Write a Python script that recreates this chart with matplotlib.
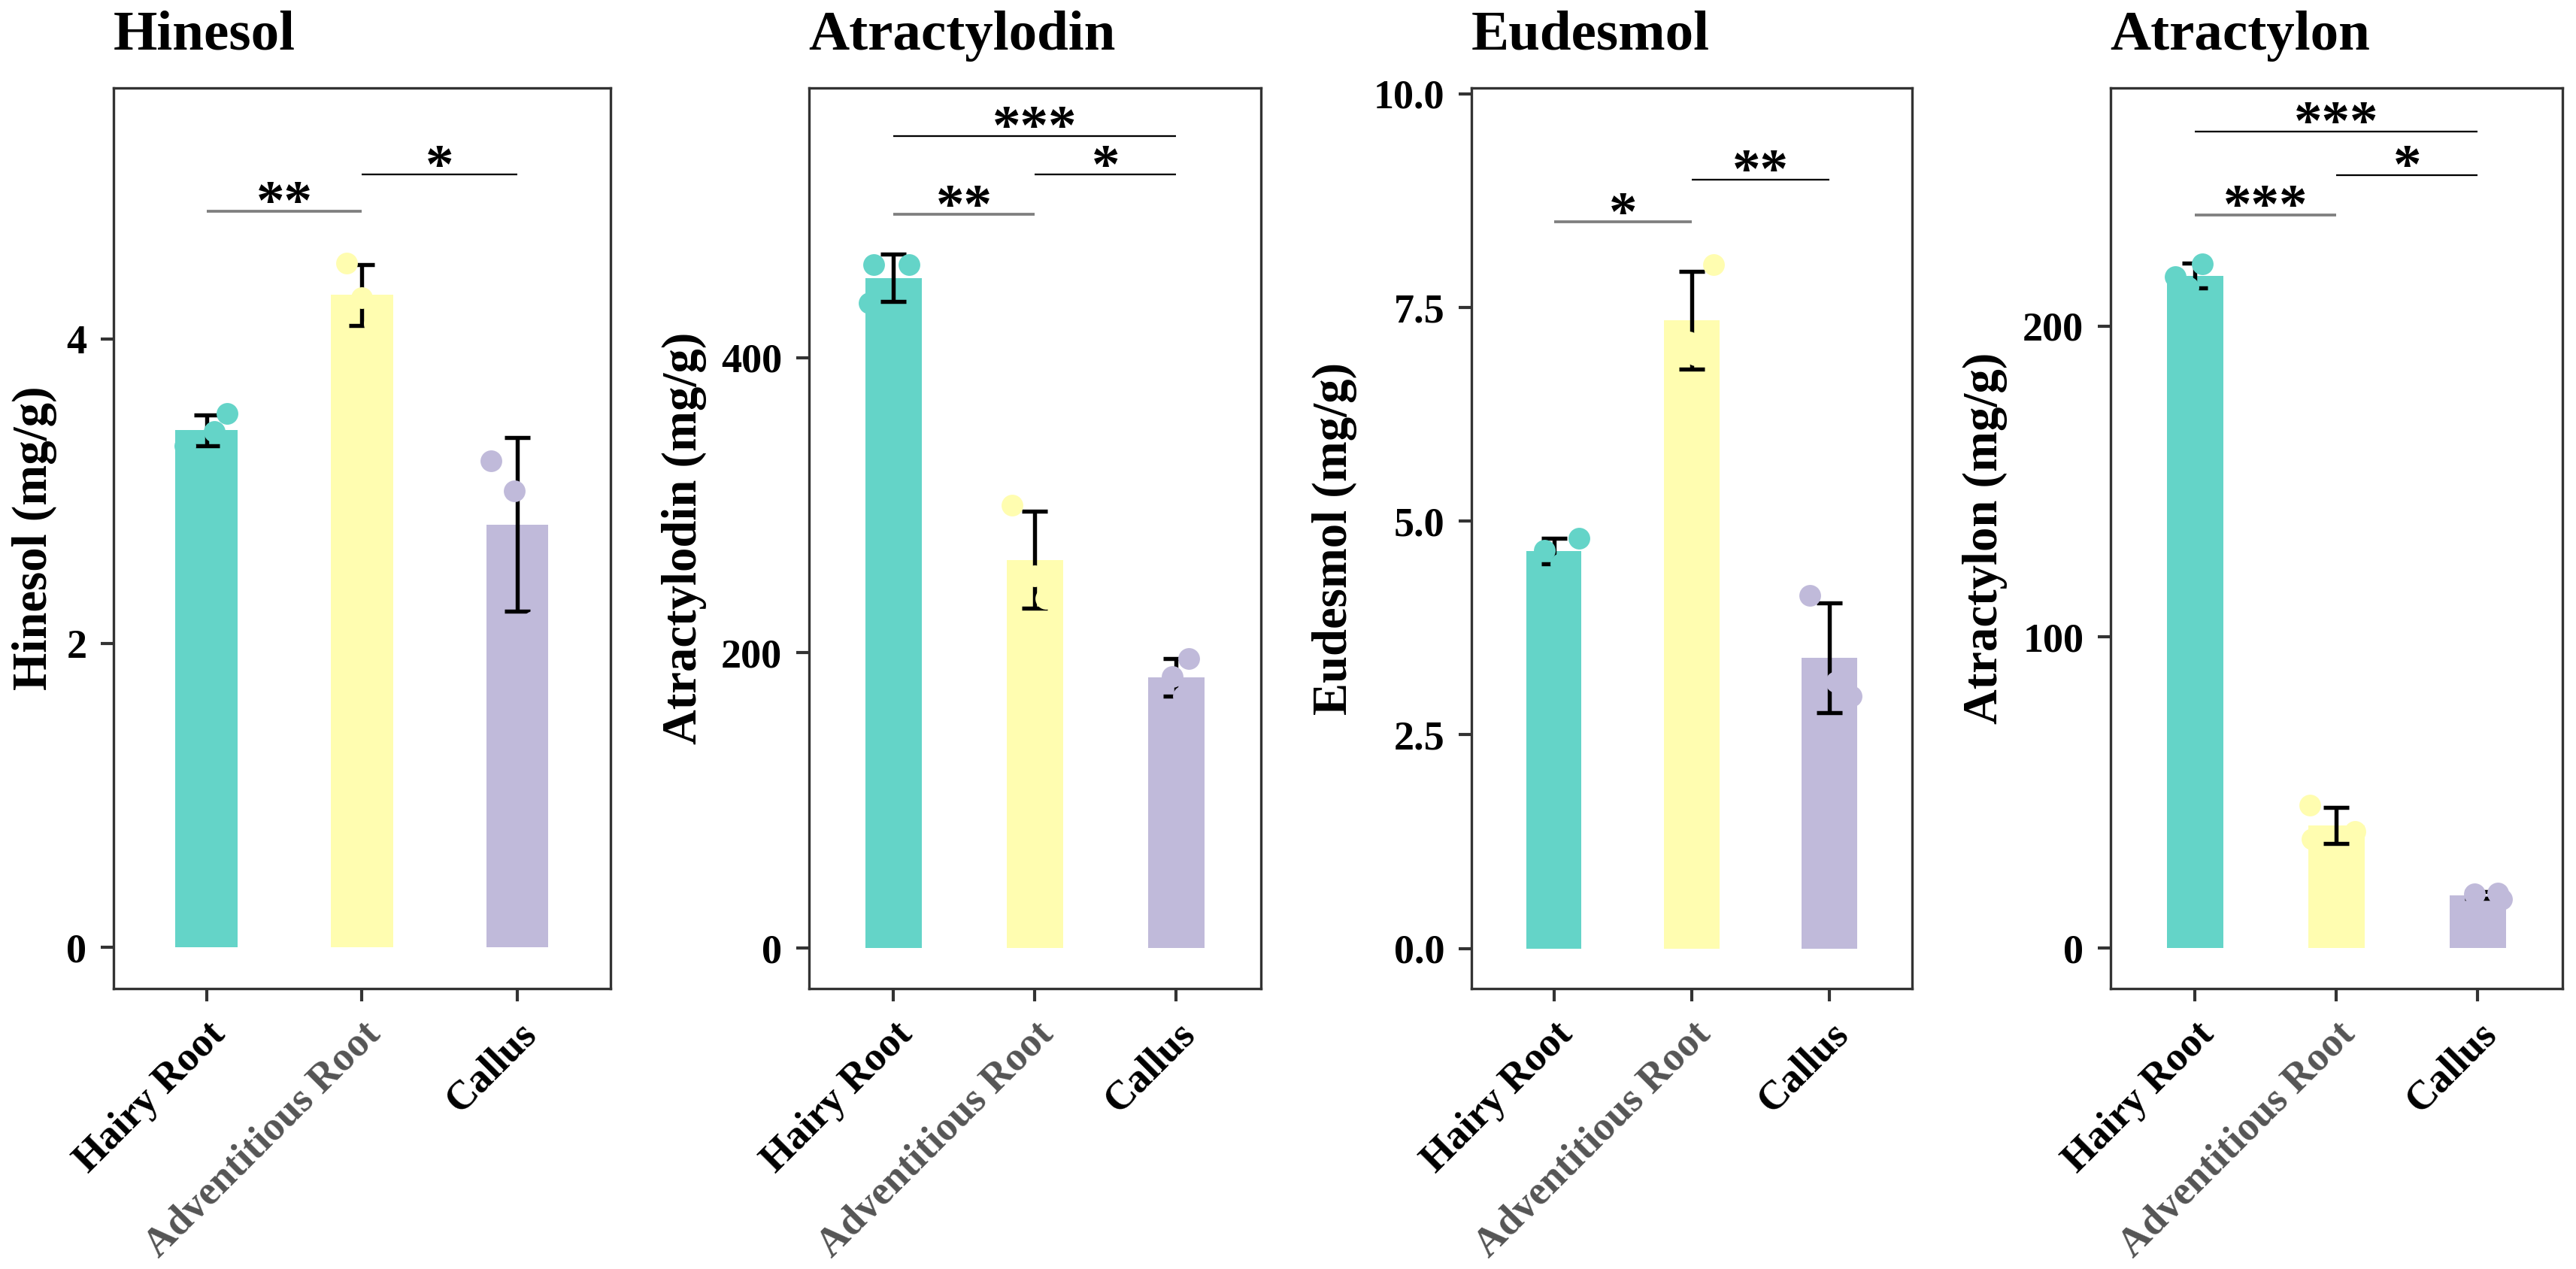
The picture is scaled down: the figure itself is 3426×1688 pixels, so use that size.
import numpy as np
import matplotlib
matplotlib.use('Agg')
import matplotlib.pyplot as plt

plt.rcParams['font.family'] = ['Liberation Serif', 'DejaVu Serif']
plt.rcParams['font.weight'] = 'bold'

# groups and colours
groups = ['Hairy Root', 'Adventitious Root', 'Callus']
colors = ['#64D4C8', '#FFFDB0', '#C0BADA']

# values (mean, sd, replicate points)
hinesol_mean = [3.40, 4.29, 2.78]
hinesol_sd = [0.10, 0.20, 0.57]
hinesol_pts = [[3.51, 3.30, 3.39], [4.50, 4.27, 4.10], [3.20, 3.00, 2.14]]

atrd_mean = [454.0, 263.0, 183.5]
atrd_sd = [16.0, 33.0, 12.8]
atrd_pts = [[463, 463, 437], [300, 252, 237], [196, 184, 170.5]]

eud_mean = [4.65, 7.35, 3.40]
eud_sd = [0.15, 0.57, 0.64]
eud_pts = [[4.80, 4.66, 4.50], [8.00, 7.10, 6.95], [4.13, 3.12, 2.95]]

atrn_mean = [216.2, 39.5, 17.0]
atrn_sd = [4.0, 5.8, 1.1]
atrn_pts = [[220.0, 215.8, 212.5], [46.0, 37.5, 35.0], [17.8, 17.4, 15.8]]

# significance brackets: (from, to, height, label)
hinesol_sig = [(1, 2, 4.84, '**'), (2, 3, 5.08, '*')]
atrd_sig = [(1, 2, 497, '**'), (2, 3, 524, '*'), (1, 3, 550, '***')]
eud_sig = [(1, 2, 8.5, '*'), (2, 3, 9.0, '**')]
atrn_sig = [(1, 2, 235.7, '***'), (2, 3, 248.5, '*'), (1, 3, 262.5, '***')]

# horizontal jitter of the points
hinesol_jit = [[0.13, -0.14, 0.05], [-0.10, 0.0, 0.08], [-0.17, -0.02, 0.10]]
atrd_jit = [[-0.14, 0.11, -0.17], [-0.16, 0.0, 0.08], [0.09, -0.03, 0.05]]
eud_jit = [[0.18, -0.07, 0.05], [0.16, -0.02, 0.03], [-0.14, 0.05, 0.16]]
atrn_jit = [[0.05, -0.14, -0.05], [-0.19, 0.13, -0.17], [0.14, -0.02, 0.17]]

panels = [
    dict(title='Hinesol', ylabel='Hinesol (mg/g)', mean=hinesol_mean, sd=hinesol_sd,
         pts=hinesol_pts, jit=hinesol_jit, sig=hinesol_sig,
         ylim=(-0.27, 5.65), yticks=[0, 2, 4], ytl=['0', '2', '4'],
         left=150.8, right=811.8, labx=46),
    dict(title='Atractylodin', ylabel='Atractylodin (mg/g)', mean=atrd_mean, sd=atrd_sd,
         pts=atrd_pts, jit=atrd_jit, sig=atrd_sig,
         ylim=(-27.4, 582.6), yticks=[0, 200, 400], ytl=['0', '200', '400'],
         left=1075.6, right=1677.3, labx=910),
    dict(title='Eudesmol', ylabel='Eudesmol (mg/g)', mean=eud_mean, sd=eud_sd,
         pts=eud_pts, jit=eud_jit, sig=eud_sig,
         ylim=(-0.47, 10.07), yticks=[0, 2.5, 5, 7.5, 10], ytl=['0.0', '2.5', '5.0', '7.5', '10.0'],
         left=1957.0, right=2542.8, labx=1775),
    dict(title='Atractylon', ylabel='Atractylon (mg/g)', mean=atrn_mean, sd=atrn_sd,
         pts=atrn_pts, jit=atrn_jit, sig=atrn_sig,
         ylim=(-13, 276.5), yticks=[0, 100, 200], ytl=['0', '100', '200'],
         left=2806.6, right=3408.0, labx=2640),
]

W, H = 3426, 1688
top_px, bot_px = 117, 1315
fig = plt.figure(figsize=(W / 300, H / 300), dpi=300)

x = np.arange(1, 4)
for p in panels:
    ax = fig.add_axes([p['left'] / W, 1 - bot_px / H, (p['right'] - p['left']) / W, (bot_px - top_px) / H])
    ax.bar(x, p['mean'], width=0.4, color=colors, zorder=1)
    ax.errorbar(x, p['mean'], yerr=p['sd'], fmt='none', ecolor='black',
                elinewidth=1.3, capsize=4, capthick=1.3, zorder=2)
    for i in range(3):
        ax.scatter(x[i] + np.array(p['jit'][i]), p['pts'][i], s=48, color=colors[i],
                   linewidths=0, zorder=3)
    for k, (a, b, y, lab) in enumerate(p['sig']):
        col = '#7f7f7f' if k == 0 else 'black'
        lw = 0.9 if k == 0 else 0.55
        ax.plot([a, b], [y, y], color=col, lw=lw, solid_capstyle='butt', zorder=4)
        ax.annotate(lab, ((a + b) / 2, y), xytext=(0, -2.5), textcoords='offset points',
                    ha='center', va='baseline', fontsize=18, fontweight='bold', zorder=5)
    ax.set_xlim(0.4, 3.6)
    ax.set_ylim(*p['ylim'])
    ax.set_yticks(p['yticks'])
    ax.set_yticklabels(p['ytl'], fontsize=13, fontweight='bold')
    ax.set_xticks(x)
    ax.set_xticklabels(groups, rotation=45, ha='right', va='top', rotation_mode='anchor',
                       fontsize=13, fontweight='bold')
    ax.get_xticklabels()[1].set_color('#555555')
    ax.tick_params(axis='both', length=4, width=1.0, color='#333333', pad=4.5)
    for s in ax.spines.values():
        s.set_color('#333333')
        s.set_linewidth(0.8)
    fig.text(p['left'] / W, 1 - 66 / H, p['title'], ha='left', va='baseline',
             fontsize=18, fontweight='bold')
    fig.text(p['labx'] / W, 1 - (top_px + bot_px) / 2 / H, p['ylabel'], rotation=90,
             ha='center', va='center', fontsize=15.5, fontweight='bold')

fig.savefig('out.png', dpi=300, facecolor='white')
